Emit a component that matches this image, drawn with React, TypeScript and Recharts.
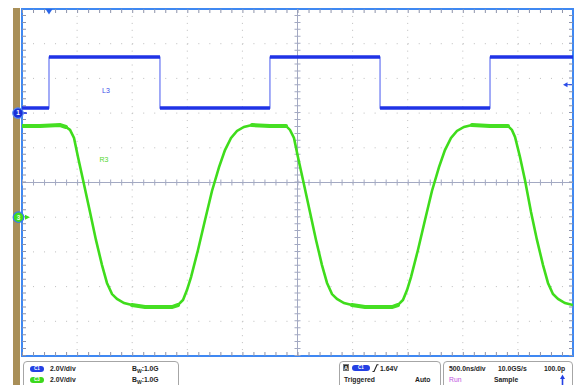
import React from 'react';
import {
  ComposedChart,
  Line,
  XAxis,
  YAxis,
  CartesianGrid,
  ReferenceLine,
  ReferenceArea,
  ReferenceDot,
} from 'recharts';

// ---- axes (500 ns/div, 2 V/div, 10 x 10 divisions) ----
const timeTicksNs = [0, 500, 1000, 1500, 2000, 2500, 3000, 3500, 4000, 4500, 5000];
const voltTicks = [-10, -8, -6, -4, -2, 0, 2, 4, 6, 8, 10];

// channel ground offsets on screen (V)
const c1OffsetV = 4;
const c3OffsetV = -2;

// ---- C1 (blue) square wave ----
const blueEdgesNs = [245, 1252, 2250, 3249, 4247];
const blueLowV = 0.29;
const blueHighV = 3.23;

// ---- C3 (green) slow-edged wave ----
const greenTimeNs = [
  0, 163, 345, 399, 436, 472, 508, 554, 617, 671, 726, 771, 817, 862, 926, 998, 1116, 1252, 1361,
  1416, 1461, 1497, 1534, 1597, 1661, 1724, 1788, 1842, 1897, 1951, 2014, 2087, 2250,
  2396, 2432, 2468, 2504, 2550, 2613, 2668, 2722, 2768, 2813, 2858, 2922, 2994, 3112, 3249, 3358,
  3412, 3457, 3494, 3530, 3593, 3657, 3720, 3784, 3838, 3893, 3947, 4011, 4083, 4247,
  4410, 4446, 4474, 4519, 4564, 4619, 4673, 4728, 4773, 4818, 4864, 4927, 5000,
];
const greenVolts = [
  5.26, 5.26, 5.31, 5.2, 5.03, 4.57, 3.47, 2.14, 0.3, -1.31, -2.76, -3.79, -4.43, -4.71, -4.95, -5.06, -5.18, -5.18, -5.18,
  -5.06, -4.77, -4.2, -3.45, -1.89, -0.16, 1.51, 2.89, 3.87, 4.57, 4.97, 5.2, 5.31, 5.26,
  5.26, 5.03, 4.57, 3.47, 2.14, 0.3, -1.31, -2.76, -3.79, -4.43, -4.71, -4.95, -5.06, -5.18, -5.18, -5.18,
  -5.06, -4.77, -4.2, -3.45, -1.89, -0.16, 1.51, 2.89, 3.87, 4.57, 4.97, 5.2, 5.31, 5.26,
  5.26, 5.03, 4.63, 3.47, 2.14, 0.3, -1.31, -2.76, -3.79, -4.43, -4.71, -4.95, -5.06,
];
const greenFlatSpansNs = [
  [0, 399],
  [998, 1416],
  [2087, 2396],
  [2994, 3412],
  [4083, 4410],
];

// trigger
const triggerTimeNs = 245;
const triggerLevelV = 1.64;

// ---- build series tables ----
type Pt = { t: number; v: number | null };

const blueFull: Pt[] = [];
const blueFlats: Pt[] = [];
{
  let level = blueLowV;
  blueFull.push({ t: 0, v: level + c1OffsetV });
  blueFlats.push({ t: 0, v: level + c1OffsetV });
  for (const e of blueEdgesNs) {
    blueFull.push({ t: e, v: level + c1OffsetV });
    blueFlats.push({ t: e, v: level + c1OffsetV });
    blueFlats.push({ t: e, v: null });
    level = level === blueLowV ? blueHighV : blueLowV;
    blueFull.push({ t: e, v: level + c1OffsetV });
    blueFlats.push({ t: e, v: level + c1OffsetV });
  }
  blueFull.push({ t: 5000, v: level + c1OffsetV });
  blueFlats.push({ t: 5000, v: level + c1OffsetV });
}

const greenFull: Pt[] = greenTimeNs.map((t, i) => ({ t, v: greenVolts[i] + c3OffsetV }));
const greenFlats: Pt[] = [];
greenFlatSpansNs.forEach(([a, b], k) => {
  if (k > 0) greenFlats.push({ t: a, v: null });
  greenTimeNs.forEach((t, i) => {
    if (t >= a && t <= b) greenFlats.push({ t, v: greenVolts[i] + c3OffsetV });
  });
});

const GRID = '#bdbdbd';
const TICK = '#8d93ab';
const CENTER = '#a3a9c2';
const BORDER = '#3f88f2';

const txt: React.CSSProperties = {
  position: 'absolute',
  fontSize: 6.8,
  fontWeight: 'bold',
  lineHeight: '8px',
  color: '#1e1e1e',
  whiteSpace: 'nowrap',
};

const Pill = ({ x, y, w, color, label }: { x: number; y: number; w: number; color: string; label: string }) => (
  <div
    style={{
      position: 'absolute',
      left: x,
      top: y,
      width: w,
      height: 6,
      borderRadius: 3,
      background: color,
      color: '#fff',
      fontSize: 4.5,
      lineHeight: '6px',
      textAlign: 'center',
      fontWeight: 'bold',
    }}
  >
    {label}
  </div>
);

const Box = ({ x, w }: { x: number; w: number }) => (
  <div
    style={{
      position: 'absolute',
      left: x,
      top: 361,
      width: w,
      height: 40,
      border: '1px solid #a6a6a6',
      borderRadius: 4,
      boxSizing: 'border-box',
    }}
  />
);

export default function App() {
  return (
    <div
      style={{
        position: 'absolute',
        left: 0,
        top: 0,
        width: 575,
        height: 385,
        background: '#fff',
        overflow: 'hidden',
        fontFamily: '"Liberation Sans", Arial, sans-serif',
      }}
    >
      <div style={{ position: 'absolute', left: 13, top: 8, width: 7, height: 377, background: '#a98f58' }} />
      <div style={{ position: 'absolute', left: 0, top: 0 }}>
        <ComposedChart width={575} height={385} margin={{ top: 9, right: 2, bottom: 29, left: 22 }}>
          <XAxis dataKey="t" type="number" domain={[0, 5000]} ticks={timeTicksNs} hide allowDataOverflow />
          <YAxis type="number" domain={[-10, 10]} ticks={voltTicks} hide allowDataOverflow />
          <CartesianGrid horizontal vertical={false} stroke={GRID} strokeDasharray="1 10.02" />
          <CartesianGrid horizontal={false} vertical stroke={GRID} strokeDasharray="1 5.94" />

          {/* center axes */}
          <ReferenceLine y={0} stroke={CENTER} strokeWidth={1} />
          <ReferenceLine x={2500} stroke={CENTER} strokeWidth={1} />
          <ReferenceLine y={0} stroke={CENTER} strokeWidth={6} strokeDasharray="1 10.02" />
          <ReferenceLine x={2500} stroke={CENTER} strokeWidth={6} strokeDasharray="1 5.94" />

          {/* border ticks */}
          <ReferenceLine y={9.885} stroke={TICK} strokeWidth={4} strokeDasharray="1 10.02" />
          <ReferenceLine y={-9.885} stroke={TICK} strokeWidth={4} strokeDasharray="1 10.02" />
          <ReferenceLine x={18.1} stroke={TICK} strokeWidth={4} strokeDasharray="1 5.94" />
          <ReferenceLine x={4981.9} stroke={TICK} strokeWidth={4} strokeDasharray="1 5.94" />

          <ReferenceArea x1={0} x2={5000} y1={-10} y2={10} fill="none" fillOpacity={0} stroke={BORDER} strokeWidth={2} />

          {/* traces */}
          <Line data={blueFull} dataKey="v" stroke="#6675f2" strokeWidth={1.2} dot={false} activeDot={false} isAnimationActive={false} type="linear" />
          <Line data={blueFlats} dataKey="v" stroke="#1f33e6" strokeWidth={3.6} dot={false} activeDot={false} isAnimationActive={false} type="linear" connectNulls={false} />
          <Line data={greenFull} dataKey="v" stroke="#3fdc1c" strokeWidth={2.6} dot={false} activeDot={false} isAnimationActive={false} type="linear" />
          <Line data={greenFlats} dataKey="v" stroke="#45df22" strokeWidth={4} strokeLinecap="round" dot={false} activeDot={false} isAnimationActive={false} type="linear" connectNulls={false} />

          {/* labels */}
          <ReferenceDot
            x={762}
            y={5.33}
            ifOverflow="visible"
            shape={(p: any) => (
              <text x={p.cx} y={p.cy + 2.5} fontSize={7} fill="#3b4ee8" textAnchor="middle" fontFamily="Liberation Sans, Arial">
                L3
              </text>
            )}
          />
          <ReferenceDot
            x={744}
            y={1.3}
            ifOverflow="visible"
            shape={(p: any) => (
              <text x={p.cx} y={p.cy + 2.5} fontSize={7} fill="#52d82c" textAnchor="middle" fontFamily="Liberation Sans, Arial">
                R3
              </text>
            )}
          />

          {/* trigger position & level */}
          <ReferenceDot
            x={triggerTimeNs}
            y={10}
            ifOverflow="visible"
            shape={(p: any) => (
              <path d={`M${p.cx - 3.5},${p.cy} L${p.cx + 3.5},${p.cy} L${p.cx},${p.cy + 5.5} Z`} fill="#2a66ea" />
            )}
          />
          <ReferenceDot
            x={5000}
            y={triggerLevelV + c1OffsetV}
            ifOverflow="visible"
            shape={(p: any) => (
              <g>
                <path d={`M${p.cx - 10},${p.cy} L${p.cx - 5.5},${p.cy - 2.5} L${p.cx - 5.5},${p.cy + 2.5} Z`} fill="#2a4ce8" />
                <line x1={p.cx - 6} y1={p.cy} x2={p.cx - 1} y2={p.cy} stroke="#2a4ce8" strokeWidth={1} />
              </g>
            )}
          />

          {/* channel ground markers */}
          <ReferenceDot
            x={0}
            y={c1OffsetV}
            ifOverflow="visible"
            shape={(p: any) => (
              <g>
                <line x1={p.cx} y1={p.cy} x2={p.cx + 5} y2={p.cy} stroke="#1f33e6" strokeWidth={1.5} />
                <circle cx={p.cx - 4} cy={p.cy} r={5.3} fill="#1a2fd8" stroke="#5b8df2" strokeWidth={1.2} />
                <text x={p.cx - 4} y={p.cy + 2.3} fontSize={6.5} fill="#fff" textAnchor="middle" fontWeight="bold" fontFamily="Liberation Sans, Arial">
                  1
                </text>
              </g>
            )}
          />
          <ReferenceDot
            x={0}
            y={c3OffsetV}
            ifOverflow="visible"
            shape={(p: any) => (
              <g>
                <path d={`M${p.cx + 8},${p.cy} L${p.cx + 3},${p.cy - 2.5} L${p.cx + 3},${p.cy + 2.5} Z`} fill="#3fdc1c" />
                <circle cx={p.cx - 3.5} cy={p.cy} r={5.3} fill="#3fdc1c" stroke="#3a78f0" strokeWidth={1.2} />
                <text x={p.cx - 3.5} y={p.cy + 2.3} fontSize={6.5} fill="#e8ffe0" textAnchor="middle" fontWeight="bold" fontFamily="Liberation Sans, Arial">
                  3
                </text>
              </g>
            )}
          />
        </ComposedChart>
      </div>

      {/* info panel */}
      <Box x={23} w={156} />
      <Box x={339} w={102} />
      <Box x={443} w={130} />

      <Pill x={30} y={365.5} w={14} color="#2440e4" label="C1" />
      <div style={{ ...txt, left: 50, top: 364.5 }}>2.0V/div</div>
      <div style={{ ...txt, left: 132, top: 364.5 }}>
        B<span style={{ fontSize: 5, verticalAlign: '-1.5px' }}>W</span>:1.0G
      </div>
      <Pill x={30} y={376.5} w={14} color="#3cd81c" label="C3" />
      <div style={{ ...txt, left: 50, top: 375.5 }}>2.0V/div</div>
      <div style={{ ...txt, left: 132, top: 375.5 }}>
        B<span style={{ fontSize: 5, verticalAlign: '-1.5px' }}>W</span>:1.0G
      </div>

      <div
        style={{
          position: 'absolute',
          left: 343,
          top: 364,
          width: 6,
          height: 7,
          background: '#2a2a2a',
          color: '#fff',
          fontSize: 5.5,
          lineHeight: '7px',
          textAlign: 'center',
          fontWeight: 'bold',
          border: '0.5px solid #777',
          boxSizing: 'border-box',
        }}
      >
        A
      </div>
      <Pill x={352} y={365} w={18} color="#2440e4" label="C1" />
      <svg style={{ position: 'absolute', left: 372, top: 364 }} width={7} height={8}>
        <path d="M0.5,7.5 L2,7.5 L5,0.8 L6.5,0.8" stroke="#222" strokeWidth={1.1} fill="none" />
      </svg>
      <div style={{ ...txt, left: 380, top: 364.5 }}>1.64V</div>
      <div style={{ ...txt, left: 344, top: 375.5 }}>Triggered</div>
      <div style={{ ...txt, left: 415, top: 375.5 }}>Auto</div>

      <div style={{ ...txt, left: 449, top: 364.5 }}>500.0ns/div</div>
      <div style={{ ...txt, left: 498, top: 364.5 }}>10.0GS/s</div>
      <div style={{ ...txt, left: 544, top: 364.5 }}>100.0p</div>
      <div style={{ ...txt, left: 449, top: 375.5, color: '#c050e0', fontWeight: 'normal' }}>Run</div>
      <div style={{ ...txt, left: 494, top: 375.5 }}>Sample</div>
      <svg style={{ position: 'absolute', left: 559, top: 374 }} width={7} height={11}>
        <path d="M3.5,0.5 L6,5 L1,5 Z" fill="#2440e4" />
        <line x1={3.5} y1={4} x2={3.5} y2={11} stroke="#2440e4" strokeWidth={1.6} />
      </svg>
    </div>
  );
}
